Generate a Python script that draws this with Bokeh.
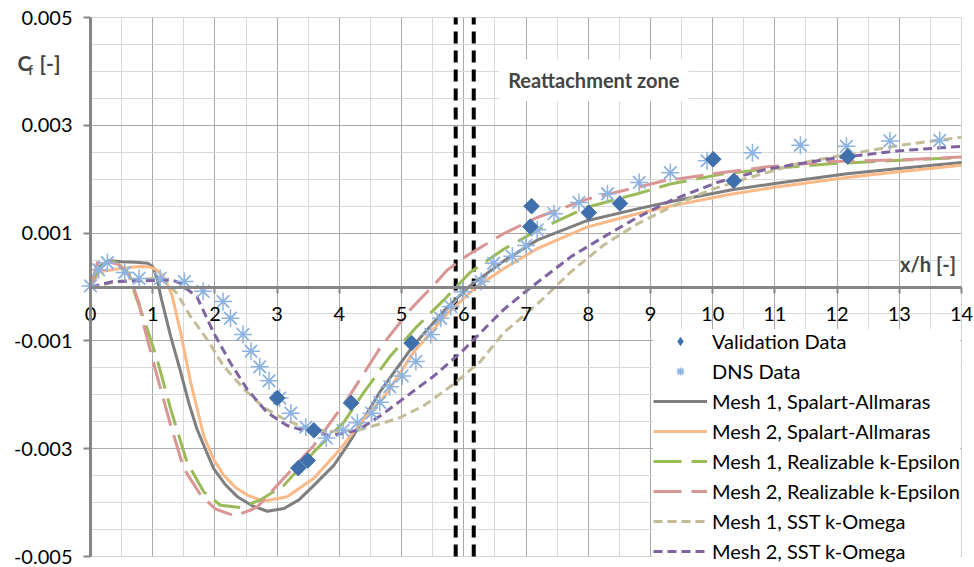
from bokeh.plotting import figure
from bokeh.models import (FixedTicker, PrintfTickFormatter, Label,
                          Legend, LegendItem, BoxAnnotation)
from bokeh.embed import file_html
from bokeh.resources import INLINE

# skin-friction coefficient values below are given in units of 1e-3
SCALE = 1e-3

val_x = [3.0, 3.34, 3.49, 3.59, 4.19, 5.16, 7.07, 7.09, 8.01, 8.51, 10.01, 10.34, 12.17]
val_cf = [-2.06, -3.36, -3.22, -2.66, -2.15, -1.04, 1.12, 1.50, 1.38, 1.55, 2.37, 1.97, 2.42]

dns_x = [0, 0.13, 0.27, 0.55, 0.78, 1.12, 1.51, 1.81, 2.13, 2.25, 2.45, 2.58, 2.72,
         2.87, 3.04, 3.22, 3.46, 3.79, 4.06, 4.29, 4.52, 4.65, 4.81, 5.01, 5.23,
         5.47, 5.63, 5.79, 5.98, 6.28, 6.48, 6.78, 7.0, 7.18, 7.45, 7.85, 8.31,
         8.82, 9.32, 9.91, 10.64, 11.41, 12.15, 12.85, 13.65]
dns_cf = [0.02, 0.32, 0.45, 0.27, 0.16, 0.16, 0.10, -0.08, -0.27, -0.58, -0.88,
          -1.19, -1.48, -1.74, -2.06, -2.34, -2.60, -2.80, -2.66, -2.52, -2.34,
          -2.14, -1.85, -1.65, -1.38, -0.88, -0.58, -0.36, -0.09, 0.10, 0.44,
          0.57, 0.77, 1.06, 1.36, 1.57, 1.73, 1.94, 2.12, 2.34, 2.49, 2.63, 2.61,
          2.71, 2.72]

sa1_x = [0, 0.05, 0.15, 0.29, 0.5, 0.72, 0.92, 1.0, 1.07, 1.13, 1.21, 1.29, 1.45,
         1.58, 1.71, 1.85, 1.98, 2.17, 2.36, 2.6, 2.84, 3.11, 3.35, 3.59, 3.91,
         4.13, 4.39, 4.66, 5.2, 5.73, 6.11, 6.64, 7.18, 7.98, 8.79, 9.32, 10.29,
         11.0, 12.16, 13.0, 14.0]
sa1_cf = [0, 0.12, 0.38, 0.49, 0.47, 0.46, 0.44, 0.38, 0.16, -0.18, -0.55, -0.92,
          -1.58, -2.15, -2.63, -3.02, -3.37, -3.67, -3.89, -4.06, -4.16, -4.11,
          -3.95, -3.68, -3.31, -2.94, -2.45, -1.93, -1.07, -0.38, 0.03, 0.48,
          0.87, 1.23, 1.45, 1.58, 1.80, 1.92, 2.10, 2.20, 2.31]

sa2_x = [0, 0.05, 0.13, 0.45, 0.78, 0.95, 1.05, 1.15, 1.21, 1.31, 1.45, 1.61, 1.82,
         1.98, 2.14, 2.33, 2.52, 2.73, 2.84, 3.16, 3.59, 4.02, 4.39, 4.77, 5.2,
         5.73, 6.2, 6.64, 7.18, 7.98, 8.79, 9.32, 10.29, 11.0, 12.16, 13.0, 14.0]
sa2_cf = [0, 0.08, 0.28, 0.34, 0.38, 0.37, 0.33, 0.22, 0.12, -0.15, -0.85, -1.77,
          -2.76, -3.2, -3.49, -3.72, -3.86, -3.95, -3.96, -3.89, -3.55, -3.0,
          -2.45, -1.96, -1.2, -0.5, 0.0, 0.34, 0.71, 1.11, 1.36, 1.50, 1.72,
          1.85, 2.03, 2.14, 2.26]

rke1_x = [0, 0.1, 0.27, 0.45, 0.62, 0.72, 0.86, 1.07, 1.29, 1.55, 1.82, 2.09, 2.41,
          2.73, 3.11, 3.59, 4.07, 4.39, 4.82, 5.25, 5.68, 6.11, 6.64, 7.18, 7.98,
          8.79, 9.32, 10.13, 10.88, 11.95, 13.02, 14.0]
rke1_cf = [0, 0.25, 0.52, 0.42, 0.25, -0.15, -0.6, -1.34, -2.27, -3.25, -3.80,
           -4.05, -4.09, -3.95, -3.68, -3.06, -2.51, -1.96, -1.28, -0.73, -0.24,
           0.28, 0.70, 1.05, 1.48, 1.73, 1.91, 2.09, 2.19, 2.29, 2.35, 2.40]

rke2_x = [0, 0.05, 0.11, 0.27, 0.45, 0.6, 0.69, 0.78, 0.86, 1.07, 1.29, 1.5, 1.77,
          2.01, 2.25, 2.36, 2.57, 2.68, 3.05, 3.59, 4.13, 4.66, 5.14, 5.57, 5.73,
          6.06, 6.64, 7.18, 7.98, 8.79, 9.22, 10.13, 10.88, 11.95, 13.02, 14.0]
rke2_cf = [0, 0.2, 0.45, 0.47, 0.42, 0.25, 0.0, -0.3, -0.73, -1.65, -2.57, -3.37,
           -3.86, -4.12, -4.22, -4.23, -4.14, -4.08, -3.62, -2.94, -2.08, -1.12,
           -0.42, 0.10, 0.31, 0.59, 0.99, 1.29, 1.63, 1.85, 1.97, 2.12, 2.23,
           2.33, 2.36, 2.41]

sst1_x = [0, 0.08, 0.45, 0.99, 1.21, 1.39, 1.61, 1.88, 2.14, 2.47, 2.79, 3.11,
          3.48, 3.86, 4.29, 4.66, 4.98, 5.36, 5.84, 6.27, 6.64, 7.18, 7.72, 8.25,
          8.79, 9.32, 9.91, 10.5, 11.41, 12.16, 13.02, 14.0]
sst1_cf = [0, 0.02, 0.10, 0.16, 0.10, -0.12, -0.55, -0.98, -1.47, -1.90, -2.24,
           -2.45, -2.63, -2.68, -2.66, -2.54, -2.42, -2.20, -1.80, -1.38, -0.85,
           -0.32, 0.28, 0.78, 1.17, 1.48, 1.78, 2.0, 2.30, 2.46, 2.63, 2.78]

sst2_x = [0, 0.08, 0.35, 0.99, 1.31, 1.45, 1.53, 1.71, 1.98, 2.25, 2.52, 2.84, 3.16,
          3.48, 3.86, 4.29, 4.66, 5.09, 5.52, 5.95, 6.38, 6.64, 7.02, 7.72, 8.25,
          8.79, 9.32, 10.07, 10.88, 11.95, 13.02, 14.0]
sst2_cf = [0, 0.02, 0.10, 0.12, 0.13, 0.07, -0.02, -0.18, -0.85, -1.41, -1.90,
           -2.33, -2.57, -2.68, -2.76, -2.66, -2.39, -2.02, -1.65, -1.22, -0.72,
           -0.42, -0.06, 0.56, 0.93, 1.29, 1.60, 1.94, 2.19, 2.39, 2.53, 2.61]

reattach_x = [5.87, 6.16]

x_ticks = list(range(0, 15))
y_ticks = [-0.005, -0.003, -0.001, 0.001, 0.003, 0.005]

FONT = "Lato"
AXIS_GRAY = "#868686"
X_MIN, X_MAX = 0.0, 14.0
Y_MIN, Y_MAX = -0.005, 0.005

# The frame fills the whole canvas; the data area (0..14, -0.005..0.005) sits
# inside it, leaving margins for the axis labels and titles.
W, H = 974, 567
PX_LEFT, PX_RIGHT, PX_TOP, PX_BOTTOM = 90, 961, 17, 556
x_per_px = (X_MAX - X_MIN) / (PX_RIGHT - PX_LEFT)
y_per_px = (Y_MAX - Y_MIN) / (PX_BOTTOM - PX_TOP)
x_lo = X_MIN - PX_LEFT * x_per_px
x_hi = X_MAX + (W - PX_RIGHT) * x_per_px
y_hi = Y_MAX + PX_TOP * y_per_px
y_lo = Y_MIN - (H - PX_BOTTOM) * y_per_px


def sc(vals):
    return [v * SCALE for v in vals]


p = figure(width=W, height=H, output_backend="svg", toolbar_location=None,
           x_range=(x_lo, x_hi), y_range=(y_lo, y_hi),
           min_border=0, min_border_left=0, min_border_right=0,
           min_border_top=0, min_border_bottom=0)
p.outline_line_color = None
p.background_fill_color = "white"
p.border_fill_color = "white"

# ticks / grid
xt = FixedTicker(ticks=x_ticks, minor_ticks=[i + 0.5 for i in range(14)])
yt = FixedTicker(ticks=y_ticks, minor_ticks=[-0.005 + 0.0005 * i for i in range(21)])
p.xaxis.ticker = xt
p.yaxis.ticker = yt
p.xgrid.ticker = xt
p.ygrid.ticker = yt
for g in (p.xgrid, p.ygrid):
    g.grid_line_color = "#A9A9A9"
    g.grid_line_width = 1
    g.minor_grid_line_color = "#D9D9D9"
    g.minor_grid_line_width = 1

# blank margins around the data area (hide grid lines outside it)
for kw in (dict(right=X_MIN), dict(left=X_MAX), dict(bottom=Y_MAX), dict(top=Y_MIN)):
    p.add_layout(BoxAnnotation(fill_color="white", fill_alpha=1.0,
                               line_color=None, level="underlay", **kw))

p.yaxis.formatter = PrintfTickFormatter(format="%.3f")

# axes cross at the origin
p.xaxis.fixed_location = 0
p.xaxis.bounds = (X_MIN, X_MAX)
p.yaxis.fixed_location = X_MIN
p.yaxis.bounds = (Y_MIN, Y_MAX)
for ax in (p.xaxis, p.yaxis):
    ax.axis_line_color = AXIS_GRAY
    ax.axis_line_width = 3
    ax.major_tick_line_color = AXIS_GRAY
    ax.major_tick_line_width = 2
    ax.major_tick_in = 0
    ax.minor_tick_line_color = None
    ax.major_label_text_font = FONT
    ax.major_label_text_font_size = "20px"
    ax.major_label_text_color = "black"
p.xaxis.major_tick_out = 6
p.xaxis.major_label_standoff = 14
p.yaxis.major_tick_out = 7
p.yaxis.major_label_standoff = 11

# reattachment zone bounds
p.segment(x0=reattach_x, y0=[Y_MIN] * len(reattach_x),
          x1=reattach_x, y1=[Y_MAX] * len(reattach_x),
          line_color="black", line_width=4, line_dash="12 7")

lw = 3
r_sa1 = p.line(sa1_x, sc(sa1_cf), line_color="#7F7F7F", line_width=lw, line_join="round")
r_sa2 = p.line(sa2_x, sc(sa2_cf), line_color="#FAB987", line_width=lw, line_join="round")
r_rke1 = p.line(rke1_x, sc(rke1_cf), line_color="#9BBB59", line_width=lw,
                line_dash="28 10", line_join="round")
r_rke2 = p.line(rke2_x, sc(rke2_cf), line_color="#D99694", line_width=lw,
                line_dash="28 10", line_join="round")
r_sst1 = p.line(sst1_x, sc(sst1_cf), line_color="#C4BD97", line_width=lw,
                line_dash="9 5", line_join="round")
r_sst2 = p.line(sst2_x, sc(sst2_cf), line_color="#8064A2", line_width=lw,
                line_dash="9 5", line_join="round")

DNS_COLOR = "#8DB3E2"
r_dns_a = p.scatter(dns_x, sc(dns_cf), marker="asterisk", size=18,
                    line_color=DNS_COLOR, line_width=1.5)
r_dns_x = p.scatter(dns_x, sc(dns_cf), marker="x", size=16,
                    line_color=DNS_COLOR, line_width=1.5)

VAL_COLOR = "#3F70AB"
# diamonds: squares turned by 45 degrees
r_val = p.scatter(val_x, sc(val_cf), marker="square", angle=0.7854, size=11,
                  fill_color=VAL_COLOR, line_color=VAL_COLOR)
# key glyph for the legend only (legend glyphs are not rotated)
r_val_key = p.scatter(val_x, sc(val_cf), marker="diamond", size=15,
                      fill_color=VAL_COLOR, line_color=VAL_COLOR, visible=False)

legend = Legend(items=[
    LegendItem(label="Validation Data", renderers=[r_val_key]),
    LegendItem(label="DNS Data", renderers=[r_dns_a, r_dns_x]),
    LegendItem(label="Mesh 1, Spalart-Allmaras", renderers=[r_sa1]),
    LegendItem(label="Mesh 2, Spalart-Allmaras", renderers=[r_sa2]),
    LegendItem(label="Mesh 1, Realizable k-Epsilon", renderers=[r_rke1]),
    LegendItem(label="Mesh 2, Realizable k-Epsilon", renderers=[r_rke2]),
    LegendItem(label="Mesh 1, SST k-Omega", renderers=[r_sst1]),
    LegendItem(label="Mesh 2, SST k-Omega", renderers=[r_sst2]),
], location=(653, 4))
legend.label_text_font = FONT
legend.label_text_font_size = "20px"
legend.label_text_color = "black"
legend.glyph_width = 54
legend.glyph_height = 20
legend.label_height = 20
legend.label_standoff = 5
legend.spacing = 6
legend.padding = 6
legend.margin = 0
legend.border_line_color = None
legend.background_fill_color = "white"
legend.background_fill_alpha = 1.0
legend.inactive_fill_alpha = 0.0
p.add_layout(legend)

# text annotations
p.add_layout(Label(x=8.09, y=0.003838, text="Reattachment zone", text_font=FONT,
                   text_font_size="20px", text_font_style="bold",
                   text_align="center", text_baseline="middle",
                   background_fill_color="white", padding=9))
p.add_layout(Label(x=13.91, y=0.000424, text="x/h [-]", text_font=FONT,
                   text_font_size="20px", text_font_style="bold",
                   text_align="right", text_baseline="middle"))
p.add_layout(Label(x=-1.173, y=0.00417, text="C", text_font=FONT,
                   text_font_size="21px", text_font_style="bold",
                   text_align="left", text_baseline="middle"))
p.add_layout(Label(x=-1.0, y=0.004022, text="f", text_font=FONT,
                   text_font_size="13px", text_font_style="bold",
                   text_align="left", text_baseline="middle"))
p.add_layout(Label(x=-0.82, y=0.00417, text="[-]", text_font=FONT,
                   text_font_size="21px", text_font_style="bold",
                   text_align="left", text_baseline="middle"))

open("out.html", "w").write(file_html(p, INLINE))
